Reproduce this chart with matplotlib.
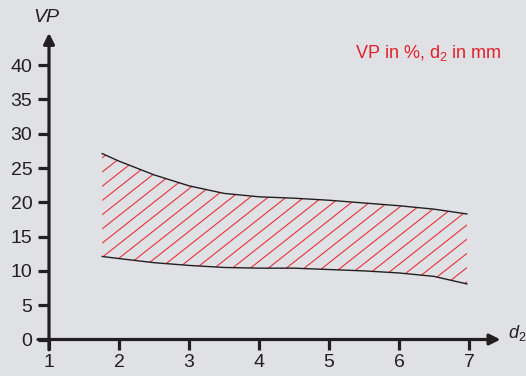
import numpy as np
import matplotlib
matplotlib.use('Agg')
import matplotlib.pyplot as plt

plt.rcParams['font.family'] = ['Liberation Sans', 'DejaVu Sans']
plt.rcParams['mathtext.fontset'] = 'custom'
plt.rcParams['mathtext.rm'] = 'Liberation Sans'
plt.rcParams['mathtext.it'] = 'Liberation Sans:italic'

# band (d2 in mm, VP in %)
d2 = [1.76, 2.0, 2.5, 3.0, 3.5, 4.0, 4.5, 5.0, 5.5, 6.0, 6.5, 6.97]
vp_upper = [27.1, 26.0, 24.0, 22.4, 21.3, 20.8, 20.6, 20.3, 19.9, 19.5, 19.0, 18.3]
vp_lower = [12.1, 11.8, 11.2, 10.8, 10.5, 10.4, 10.4, 10.2, 10.0, 9.7, 9.2, 8.1]

x_ticks = [1, 2, 3, 4, 5, 6, 7]
y_ticks = [0, 5, 10, 15, 20, 25, 30, 35, 40]

bg = '#e0e1e5'
ink = '#231f20'
red = '#e3202a'

fig = plt.figure(figsize=(5.26, 3.76), dpi=100, facecolor=bg)
ax = fig.add_axes([49 / 526, 36.5 / 376, 420 / 526, 274.4 / 376])
ax.set_facecolor(bg)
ax.patch.set_alpha(0)
ax.set_xlim(1, 7)
ax.set_ylim(0, 40)
for s in ax.spines.values():
    s.set_visible(False)

# hatched band: red lines clipped to the region between the curves
band = ax.fill_between(d2, vp_lower, vp_upper, facecolor='none', edgecolor='none')
k = 8.06          # slope of hatch lines (VP per mm)
step = 0.257      # horizontal spacing of hatch lines
xs = np.array([0.5, 7.5])
for c in np.arange(5.67 + 3 * step, -2.5, -step):
    ln, = ax.plot(xs, k * (xs - c), color='#e8313b', lw=0.8)
    ln.set_clip_path(band.get_paths()[0], band.get_transform())

ax.plot(d2, vp_upper, color=ink, lw=1.0)
ax.plot(d2, vp_lower, color=ink, lw=1.0)

# axes with arrows
ax.annotate('', xy=(7.45, 0), xytext=(0.843, 0), xycoords='data',
            arrowprops=dict(arrowstyle='-|>', lw=2.3, color=ink, mutation_scale=16,
                            shrinkA=0, shrinkB=0), annotation_clip=False)
ax.annotate('', xy=(1, 44.7), xytext=(1, -1.5), xycoords='data',
            arrowprops=dict(arrowstyle='-|>', lw=2.3, color=ink, mutation_scale=16,
                            shrinkA=0, shrinkB=0), annotation_clip=False)

ax.set_xticks(x_ticks)
ax.set_yticks(y_ticks)
ax.tick_params(axis='y', direction='out', length=8, width=2.3, color=ink,
               labelsize=14, labelcolor=ink, pad=4)
ax.tick_params(axis='x', direction='out', length=7.5, width=2.3, color=ink,
               labelsize=14, labelcolor=ink, pad=3)

fig.text(46 / 526, 1 - 17 / 376, 'VP', ha='center', va='center', fontsize=14,
         style='italic', color=ink)
fig.text(508 / 526, 1 - 333 / 376, '$d_2$', ha='left', va='center', fontsize=13,
         color=ink)
fig.text(355 / 526, 1 - 53 / 376, 'VP in %, d$_\\mathrm{2}$ in mm', ha='left', va='center',
         fontsize=13, color=red)

fig.savefig('out.png', dpi=100, facecolor=bg)
